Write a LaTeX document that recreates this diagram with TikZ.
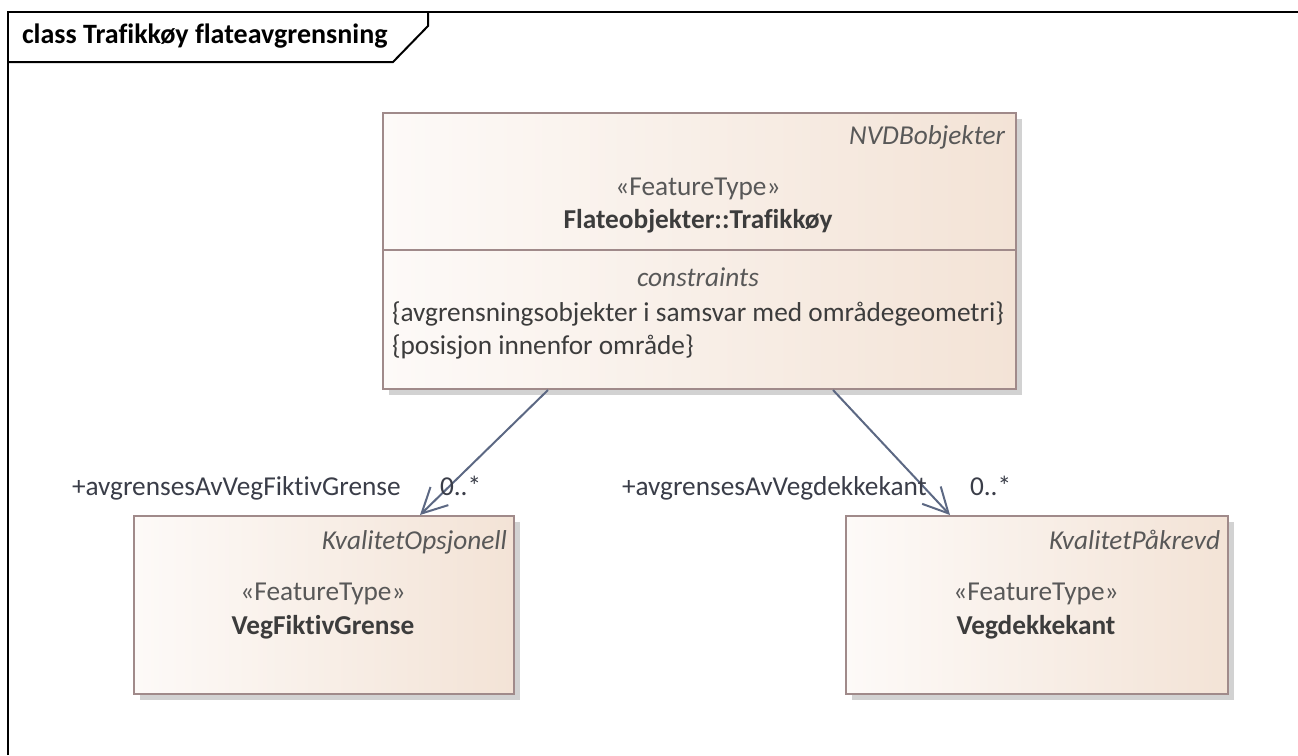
\documentclass[tikz,border=0pt]{standalone}
\usepackage{fontspec}
\setmainfont{Carlito}[Ligatures=NoCommon]
\usetikzlibrary{arrows.meta,calc,shadows}
\definecolor{boxborder}{HTML}{A08A8A}
\definecolor{boxleft}{HTML}{FDFAF8}
\definecolor{boxright}{HTML}{F3E3D6}
\definecolor{shadowc}{HTML}{D2D2D2}
\definecolor{linec}{HTML}{5C6883}
\definecolor{txt}{HTML}{3C3C3C}
\definecolor{stereo}{HTML}{585858}
\definecolor{lbl}{HTML}{3A3D48}
\newcommand{\fsz}{\fontsize{27.3}{32}\selectfont}
\begin{document}
\begin{tikzpicture}[x=1pt,y=-1pt,
  font=\fsz,
  classbox/.style={draw=boxborder, line width=2pt, left color=boxleft, right color=boxright,
    anchor=north west, inner sep=0pt,
    drop shadow={shadow xshift=6pt, shadow yshift=-6pt, fill=shadowc, opacity=1}},
  txtnode/.style={inner sep=0pt, outer sep=0pt},
  assoc/.style={draw=linec, line width=2pt, -{Straight Barb[angle=54:28pt, line width=2pt]}},
]
\useasboundingbox (0,0) rectangle (1298,755);
% frame
\draw[black, line width=2pt] (8,755) -- (8,12) -- (1298,12);
\draw[black, line width=2pt] (8,62) -- (393,62) -- (428,26) -- (428,12);
\node[txtnode, anchor=base west, font=\fontsize{28}{32}\selectfont\bfseries] (title) at (22,43) {class Trafikkøy flateavgrensning};

% boxes
\node[classbox, minimum width=633pt, minimum height=276pt] (top) at (382,112) {};
\node[classbox, minimum width=380pt, minimum height=178pt] (left) at (133,515) {};
\node[classbox, minimum width=382pt, minimum height=178pt] (right) at (845,515) {};
\draw[boxborder, line width=2pt] (top.west |- 0,250) -- (top.east |- 0,250);

% top box texts
\node[txtnode, anchor=base east, text=stereo, font=\fsz\itshape] (tpkg) at (1005,144) {NVDBobjekter};
\node[txtnode, anchor=base, text=stereo] (tster) at (698,195) {«FeatureType»};
\node[txtnode, anchor=base, text=txt, font=\fsz\bfseries] (tname) at (698,228) {Flateobjekter::Trafikkøy};
\node[txtnode, anchor=base, text=stereo, font=\fsz\itshape] (tcons) at (698,286) {constraints};
\node[txtnode, anchor=base west, text=txt] (tc1) at (392,321) {\{avgrensningsobjekter i samsvar med områdegeometri\}};
\node[txtnode, anchor=base west, text=txt] (tc2) at (392,354) {\{posisjon innenfor område\}};

% left box texts
\node[txtnode, anchor=base east, text=stereo, font=\fsz\itshape] (lpkg) at (507,549) {KvalitetOpsjonell};
\node[txtnode, anchor=base, text=stereo] (lster) at (323,600) {«FeatureType»};
\node[txtnode, anchor=base, text=txt, font=\fsz\bfseries] (lname) at (323,634) {VegFiktivGrense};

% right box texts
\node[txtnode, anchor=base east, text=stereo, font=\fsz\itshape] (rpkg) at (1220,549) {KvalitetPåkrevd};
\node[txtnode, anchor=base, text=stereo] (rster) at (1036,600) {«FeatureType»};
\node[txtnode, anchor=base, text=txt, font=\fsz\bfseries] (rname) at (1036,634) {Vegdekkekant};

% connectors
\coordinate (a1) at ($(top.south west)+(166,0)$);
\coordinate (a2) at ($(left.north west)+(287,0)$);
\coordinate (b1) at ($(top.south west)+(451,0)$);
\coordinate (b2) at ($(right.north west)+(105,0)$);
\draw[assoc] (a1) -- (a2);
\draw[assoc] (b1) -- (b2);

% role labels
\node[txtnode, anchor=base west, text=lbl] (lrole) at (72,495) {+avgrensesAvVegFiktivGrense};
\node[txtnode, anchor=base west, text=lbl] (lmult) at (440,495) {0..*};
\node[txtnode, anchor=base west, text=lbl] (rrole) at (622,495) {+avgrensesAvVegdekkekant};
\node[txtnode, anchor=base west, text=lbl] (rmult) at (970,495) {0..*};
\end{tikzpicture}
\end{document}
